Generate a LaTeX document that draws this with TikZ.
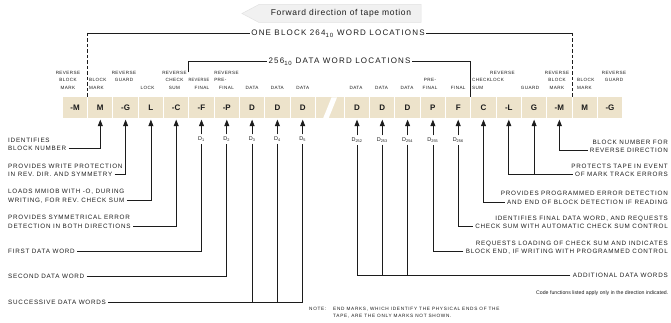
\documentclass[tikz,border=0pt]{standalone}
\usepackage{fontspec}
\setmainfont{Liberation Sans}
\newfontfamily\lblfont[LetterSpace=12]{Liberation Sans}
\newfontfamily\ttlfont[LetterSpace=15]{Liberation Sans}
\newfontfamily\capfont[LetterSpace=9]{Liberation Sans}
\newfontfamily\fwdfont[LetterSpace=8]{Liberation Sans}
\newfontfamily\plainfont{Liberation Sans}
\usetikzlibrary{arrows.meta}
\definecolor{tape}{HTML}{EDE3CB}
\definecolor{ink}{HTML}{1C1C1C}
\definecolor{bannerfill}{HTML}{F1F1F1}
\definecolor{bannerline}{HTML}{E2E2E2}
\tikzset{
 tapecell/.style={fill=tape, minimum width=24.3pt, minimum height=21pt, inner sep=0pt, text=ink, font=\plainfont\bfseries\fontsize{8}{8}\selectfont},
 toplabel/.style={font=\capfont\fontsize{4.6}{7.5}\selectfont, inner sep=0pt, text=ink, anchor=south, align=center},
 desctext/.style={font=\lblfont\fontsize{6.3}{6.3}\selectfont, inner xsep=2.2pt, inner ysep=0pt, text height=4.5pt, text depth=0pt, text=ink},
 sublabel/.style={font=\plainfont\fontsize{5.5}{5.5}\selectfont, inner xsep=1pt, inner ysep=2pt, text=ink},
 leadline/.style={draw=ink, line width=0.75pt},
 leadarrow/.style={leadline, -{Triangle[length=6.5pt,width=5pt]}, shorten >=1pt},
 titletext/.style={font=\ttlfont\fontsize{8}{8}\selectfont, inner xsep=1.5pt, inner ysep=0pt, text height=5.7pt, text depth=0pt, text=ink},
 dashedlead/.style={leadline, dash pattern=on 3.5pt off 2pt},
 notetext/.style={font=\ttlfont\fontsize{4.7}{7}\selectfont, text=ink, inner sep=0pt},
}
\begin{document}
\begin{tikzpicture}[x=1pt,y=-1pt]
\useasboundingbox (0,0) rectangle (671,323);
\fill[white] (0,0) rectangle (671,323);

% banner
\filldraw[fill=bannerfill, draw=bannerline, line width=0.5pt] (242,13.5) -- (259,4.5) -- (421,4.5) -- (421,22.5) -- (259,22.5) -- cycle;
\node[font=\fwdfont\fontsize{8.5}{8.5}\selectfont, text=ink, inner sep=0pt] (fwd) at (341,13.5) {Forward direction of tape motion};

% tape cells
\foreach \n/\t/\x in {a1/-M/75, a2/M/100.3, a3/-G/125.6, a4/L/150.9, a5/-C/176.2, a6/-F/201.5, a7/-P/226.8, a8/D/252.1, a9/D/277.4, a10/D/302.7,
  b1/D/357, b2/D/382.3, b3/D/407.6, b4/P/432.9, b5/F/458.2, b6/C/483.5, b7/-L/508.8, b8/G/534.1, b9/-M/559.4, b10/M/584.7, b11/-G/610}
  {\node[tapecell] (\n) at (\x,108) {\t};}
\node[tapecell, minimum width=27.9pt] (brk) at (329.85,108) {};
\fill[white] (323,118.6) -- (328.5,118.6) -- (337,97.4) -- (331.5,97.4) -- cycle;

% labels above the cells
\node[toplabel] (l1) at (68,89.7) {REVERSE\\BLOCK\\MARK};
\node[toplabel, anchor=south west, align=left] (l2) at (89,89.7) {BLOCK\\MARK};
\node[toplabel] (l3) at (124,82.2) {REVERSE\\GUARD};
\node[toplabel] (l4) at (147.5,89.7) {LOCK};
\node[toplabel] (l5) at (174.5,89.7) {REVERSE\\CHECK\\SUM};
\node[toplabel, anchor=south east, align=right] (l6) at (209.5,89.7) {\scalebox{0.85}[1]{REVERSE}\\FINAL};
\node[toplabel] (l7) at (226.5,89.7) {REVERSE\\\rlap{PRE-}\hphantom{REVERSE}\\FINAL};
\node[toplabel] (l8) at (252.1,89.7) {DATA};
\node[toplabel] (l9) at (277.4,89.7) {DATA};
\node[toplabel] (l10) at (302.7,89.7) {DATA};
\node[toplabel] (m1) at (356,89.7) {DATA};
\node[toplabel] (m2) at (381.5,89.7) {DATA};
\node[toplabel] (m3) at (407,89.7) {DATA};
\node[toplabel] (m4) at (430,89.7) {PRE-\\FINAL};
\node[toplabel] (m5) at (458.2,89.7) {FINAL};
\node[toplabel, anchor=south west, align=left] (m6) at (472,89.7) {CHECK\\SUM};
\node[toplabel, anchor=south west, align=left] (m7) at (490,82.2) {REVERSE\\LOCK};
\node[toplabel] (m8) at (530,89.7) {GUARD};
\node[toplabel] (m9) at (557,89.7) {REVERSE\\BLOCK\\MARK};
\node[toplabel, anchor=south west, align=left] (m10) at (577,89.7) {BLOCK\\MARK};
\node[toplabel] (m11) at (614,82.2) {REVERSE\\GUARD};

% block brackets
\node[titletext] (one) at (338,33) {ONE BLOCK 264\textsubscript{10} WORD LOCATIONS};
\node[titletext] (dwl) at (339.5,61) {256\textsubscript{10} DATA WORD LOCATIONS};
\coordinate (blkL) at (87.65,97.5);
\coordinate (blkR) at (572.05,97.5);
\coordinate (datL) at (188.85,72.5);
\coordinate (datR) at (470.85,97.5);
\draw[leadline] (one.west) -- (one.west -| blkL);
\draw[dashedlead] (one.west -| blkL) -- (blkL);
\draw[leadline] (one.east) -- (one.east -| blkR);
\draw[dashedlead] (one.east -| blkR) -- (blkR);
\draw[leadline] (datL) |- (dwl.west);
\draw[leadline] (dwl.east) -| (datR);

% subscript labels
\foreach \n/\c/\s in {d1/a6/1, d2/a7/2, d3/a8/3, d4/a9/4, d5/a10/5}
  {\node[sublabel] (\n) at (\c.center |- 0,139) {D\textsubscript{\s}};
   \draw[leadarrow] (\n.north) -- (\c.south);}
\foreach \n/\c/\s in {e252/b1/252, e253/b2/253, e254/b3/254, e255/b4/255, e256/b5/256}
  {\node[sublabel] (\n) at (\c.center |- 0,140) {D\textsubscript{\s}};
   \draw[leadarrow] (\n.north) -- (\c.south);}

% left descriptions
\node[desctext, anchor=west] (t1a) at (5.8,140) {IDENTIFIES};
\node[desctext, anchor=west] (t1b) at (5.8,148) {BLOCK NUMBER};
\node[desctext, anchor=west] (t2a) at (5.8,166) {PROVIDES WRITE PROTECTION};
\node[desctext, anchor=west] (t2b) at (5.8,174.5) {IN REV. DIR. AND SYMMETRY};
\node[desctext, anchor=west] (t3a) at (5.8,191.5) {LOADS MMIOB WITH -O, DURING};
\node[desctext, anchor=west] (t3b) at (5.8,200) {WRITING, FOR REV. CHECK SUM};
\node[desctext, anchor=west] (t4a) at (5.8,217) {PROVIDES SYMMETRICAL ERROR};
\node[desctext, anchor=west] (t4b) at (5.8,226) {DETECTION IN BOTH DIRECTIONS};
\node[desctext, anchor=west] (t5) at (5.8,251) {FIRST DATA WORD};
\node[desctext, anchor=west] (t6) at (5.8,276) {SECOND DATA WORD};
\node[desctext, anchor=west] (t7) at (5.8,302) {SUCCESSIVE DATA WORDS};

\draw[leadarrow] (t1b.east) -| (a2.south);
\draw[leadarrow] (t2b.east) -| (a3.south);
\draw[leadarrow] (t3b.east) -| (a4.south);
\draw[leadarrow] (t4b.east) -| (a5.south);
\draw[leadline] (t5.east) -| (d1.south);
\draw[leadline] (t6.east) -| (d2.south);
\draw[leadline] (t7.east) -| (d5.south);
\draw[leadline] (d3.south) -- (d3.south |- t7.east);
\draw[leadline] (d4.south) -- (d4.south |- t7.east);

% right descriptions
\node[desctext, anchor=east] (r1a) at (670.2,142) {BLOCK NUMBER FOR};
\node[desctext, anchor=east] (r1b) at (670.2,150.5) {REVERSE DIRECTION};
\node[desctext, anchor=east] (r2a) at (670.2,166) {PROTECTS TAPE IN EVENT};
\node[desctext, anchor=east] (r2b) at (670.2,174.5) {OF MARK TRACK ERRORS};
\node[desctext, anchor=east] (r3a) at (670.2,193) {PROVIDES PROGRAMMED ERROR DETECTION};
\node[desctext, anchor=east] (r3b) at (670.2,202) {AND END OF BLOCK DETECTION IF READING};
\node[desctext, anchor=east] (r4a) at (670.2,218) {IDENTIFIES FINAL DATA WORD, AND REQUESTS};
\node[desctext, anchor=east] (r4b) at (670.2,226.5) {CHECK SUM WITH AUTOMATIC CHECK SUM CONTROL};
\node[desctext, anchor=east] (r5a) at (670.2,243) {REQUESTS LOADING OF CHECK SUM AND INDICATES};
\node[desctext, anchor=east] (r5b) at (670.2,251.5) {BLOCK END, IF WRITING WITH PROGRAMMED CONTROL};
\node[desctext, anchor=east] (r6) at (670.2,275.5) {ADDITIONAL DATA WORDS};

\draw[leadarrow] (r1b.west) -| (b9.south);
\draw[leadarrow] (r2b.west) -| (b7.south);
\draw[leadarrow] (b8.south |- r2b.west) -- (b8.south);
\draw[leadarrow] (r3b.west) -| (b6.south);
\draw[leadline] (r4b.west) -| (e256.south);
\draw[leadline] (r5b.west) -| (e255.south);
\draw[leadline] (r6.west) -| (e252.south);
\draw[leadline] (e253.south) -- (e253.south |- r6.west);
\draw[leadline] (e254.south) -- (e254.south |- r6.west);

% notes
\node[font=\plainfont\fontsize{5.2}{5.2}\selectfont, text=ink, anchor=east, inner sep=0pt] (code) at (668.5,293) {Code functions listed apply only in the direction indicated.};
\node[notetext, anchor=north west] (note) at (309,307) {NOTE:};
\node[notetext, anchor=north west, align=left] (notetxt) at (333,307) {END MARKS, WHICH IDENTIFY THE PHYSICAL ENDS OF THE\\TAPE, ARE THE ONLY MARKS NOT SHOWN.};
\end{tikzpicture}
\end{document}
